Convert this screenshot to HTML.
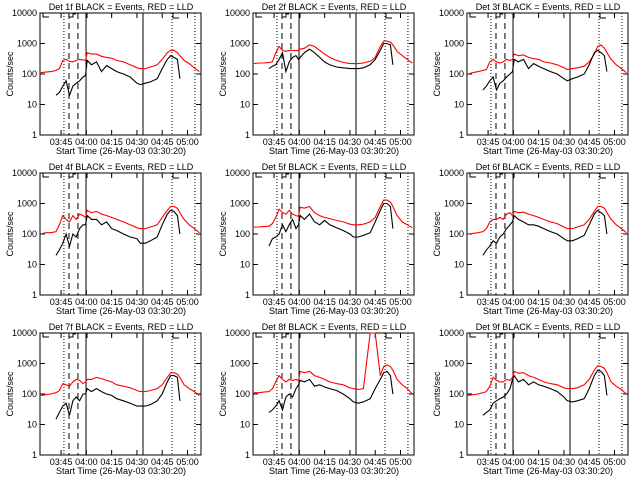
<!DOCTYPE html>
<html><head><meta charset="utf-8"><style>
body{margin:0;background:#fff;}
svg{display:block;font-family:"Liberation Sans",sans-serif;}
text{font-size:9px;fill:#000;}
</style></head><body>
<svg id="c" width="640" height="480" viewBox="0 0 640 480"></svg>
<script>
const times=[3,6,9,12,14,16,18,20,22,24,26,28,29.5,30.5,33,36,39,42,45,48,52,56,60,62,65,68,72,75,78,80,82,84,85.5,88,91,94,97];
const tickLabels=["03:45","04:00","04:15","04:30","04:45","05:00"];
const tickTimes=[15,30,45,60,75,90];
const yTicks=[1,10,100,1000,10000];
const yTickLabels=["1","10","100","1000","10000"];
const dets=["1f","2f","3f","4f","5f","6f","7f","8f","9f"];
const N=null;
const red1=[110,115,120,130,150,280,300,260,250,280,300,290,280,500,450,450,380,350,330,280,250,200,160,150,150,170,200,300,500,600,600,500,400,280,220,160,120];
const blk1=[N,N,N,20,25,40,60,20,40,50,60,80,90,280,200,250,120,190,150,120,100,80,50,45,50,55,70,150,300,400,350,300,70,N,N,N,N];
const red2=[220,230,230,240,250,500,800,600,550,600,600,580,600,650,700,900,800,600,450,350,280,240,220,220,220,230,260,350,800,1200,1200,1100,900,550,400,300,230];
const blk2=[N,N,N,150,180,200,300,500,120,250,350,400,300,350,500,650,500,350,250,200,170,160,150,150,150,160,200,300,600,1000,1000,900,200,N,N,N,N];
const red3=[100,110,120,130,140,250,300,250,230,250,300,280,300,450,400,420,350,320,300,250,230,200,160,140,150,160,180,250,450,800,900,700,500,300,200,150,110];
const blk3=[N,N,N,30,40,60,80,30,50,60,80,100,120,300,250,300,150,220,180,150,120,100,70,60,70,80,100,200,500,600,500,400,120,N,N,N,N];
const red4=[100,110,110,120,200,400,300,250,400,300,450,400,350,600,500,550,450,400,350,300,250,200,160,150,150,170,200,350,600,800,800,700,500,300,200,150,110];
const blk4=[N,N,N,20,30,50,100,40,100,80,150,200,200,400,300,300,200,250,150,130,100,80,70,50,50,60,80,200,450,600,550,400,100,N,N,N,N];
const red5=[170,170,175,180,220,350,650,500,450,600,450,400,380,750,700,800,500,400,350,320,280,250,210,200,200,210,250,350,800,1300,1300,1100,800,400,250,200,160];
const blk5=[N,N,N,40,70,80,100,200,120,200,300,150,200,400,300,450,250,200,280,200,160,130,100,80,80,90,110,250,600,1000,1000,800,150,N,N,N,N];
const red6=[100,105,110,120,150,250,300,300,350,300,450,500,400,550,500,520,450,400,350,300,250,220,170,150,150,170,200,300,550,800,800,700,500,300,200,150,110];
const blk6=[N,N,N,20,30,40,60,50,80,100,150,200,250,400,300,250,200,200,180,150,120,100,70,60,60,70,90,200,450,600,500,400,100,N,N,N,N];
const red7=[90,95,100,110,130,220,200,180,250,300,280,220,250,300,300,350,320,280,250,200,180,160,130,120,120,130,150,200,350,500,500,450,350,200,150,120,90];
const blk7=[N,N,N,15,25,40,50,20,60,80,60,100,100,150,120,150,120,100,90,70,60,50,40,40,40,45,60,100,250,400,400,350,60,N,N,N,N];
const red8=[110,110,115,120,150,250,400,300,250,300,280,300,270,550,500,550,400,350,300,250,220,200,160,150,140,150,10000,10000,400,800,900,800,600,300,200,150,100];
const blk8=[N,N,N,25,30,40,60,30,80,100,80,150,200,280,250,300,180,200,170,150,130,100,70,55,50,55,70,150,300,500,550,400,100,N,N,N,N];
const red9=[90,95,100,110,120,180,350,280,250,250,300,280,350,550,480,500,400,350,300,250,220,200,160,150,150,160,200,300,600,850,800,700,500,250,180,140,100];
const blk9=[N,N,N,20,25,30,50,60,70,80,100,150,300,400,250,300,200,250,200,180,150,120,80,60,55,60,70,150,400,600,550,400,90,N,N,N,N];
const reds=[red1,red2,red3,red4,red5,red6,red7,red8,red9];
const blks=[blk1,blk2,blk3,blk4,blk5,blk6,blk7,blk8,blk9];
const vDotted=[16.7,80.8,94.4];
const vDashed=[19.7,25];
const vSolid=[29.8,63.6];

const svg=document.getElementById('c');
const NS='http://www.w3.org/2000/svg';
function mk(tag,attrs,parent){const e=document.createElementNS(NS,tag);for(const k in attrs)e.setAttribute(k,attrs[k]);parent.appendChild(e);return e;}
const L=40,R=201,T=13,B=135;
for(let p=0;p<9;p++){
  const ox=[0,213,427][p%3], oy=[0,160,320][Math.floor(p/3)];
  const g=mk('g',{transform:`translate(${ox},${oy})`},svg);
  
  
  const xs=t=>L+(t-2.5)*(R-L)/95.5;
  const ys=v=>B-Math.log10(v)*(B-T)/4;
  const title=mk('text',{x:121,y:10,'text-anchor':'middle','font-size':'10'},g);
  title.textContent='Det '+dets[p]+' BLACK = Events, RED = LLD';
  
  
  const box=mk('rect',{x:L,y:T,width:R-L,height:B-T,fill:'none',stroke:'#000','stroke-width':1},g);
  
  
  yTicks.forEach((v,i)=>{
    const y=ys(v);
    mk('line',{x1:L,x2:L+5,y1:y,y2:y,stroke:'#000'},g);
    mk('line',{x1:R-5,x2:R,y1:y,y2:y,stroke:'#000'},g);
    const t=mk('text',{x:L-3,y:y+3,'text-anchor':'end','font-size':'8'},g);
    t.textContent=yTickLabels[i];
    
    
  });
  tickTimes.forEach((tt,i)=>{
    const x=xs(tt);
    mk('line',{x1:x,x2:x,y1:B,y2:B-5,stroke:'#000'},g);
    mk('line',{x1:x,x2:x,y1:T,y2:T+5,stroke:'#000'},g);
    const t=mk('text',{x:x,y:B+10,'text-anchor':'middle','font-size':'9'},g);
    t.textContent=tickLabels[i];
    
    
  });
  const yl=mk('text',{x:0,y:0,'text-anchor':'middle','font-size':'8',transform:`translate(13,${(T+B)/2}) rotate(-90)`},g);
  yl.textContent='Counts/sec';
  
  
  const xl=mk('text',{x:121,y:B+19,'text-anchor':'middle','font-size':'10'},g);
  xl.textContent='Start Time (26-May-03 03:30:20)';
  
  
  vDotted.forEach(t=>{const l=mk('line',{x1:xs(t),x2:xs(t),y1:T,y2:B,stroke:'#000','stroke-dasharray':'1,2'},g);});
  vDashed.forEach(t=>{const l=mk('line',{x1:xs(t),x2:xs(t),y1:T,y2:B,stroke:'#000','stroke-dasharray':'6,4'},g);});
  vSolid.forEach(t=>{const l=mk('line',{x1:xs(t),x2:xs(t),y1:T,y2:B,stroke:'#000'},g);});
  mk('path',{d:`M${L+3},${T} v4 h6 M${xs(19.7)},${T+4} h4 v-3 h3 M${xs(29.8)+1},${T} v5 M${xs(80.8)+1},${T} v5 h6`,fill:'none',stroke:'#000'},g);
  [[reds[p],'#ff0000','series-red-lld'],[blks[p],'#000','series-black-events']].forEach(([arr,col,nm])=>{
    let d='',pen=false;
    arr.forEach((v,i)=>{
      if(v==null){pen=false;return;}
      d+=(pen?'L':'M')+xs(times[i]).toFixed(1)+','+ys(v).toFixed(1);pen=true;
    });
    const pth=mk('path',{d:d,fill:'none',stroke:col,'stroke-width':1.1},g);
    
    
  });
}
</script>
</body></html>
